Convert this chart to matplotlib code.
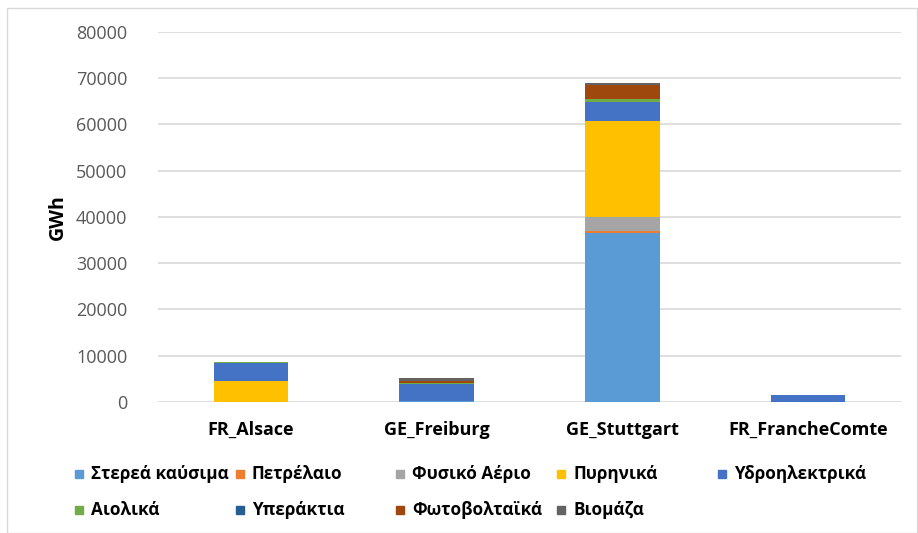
import matplotlib.pyplot as plt
from matplotlib.patches import Rectangle
import numpy as np

regions = ['FR_Alsace', 'GE_Freiburg', 'GE_Stuttgart', 'FR_FrancheComte']
sources = ['Στερεά καύσιμα', 'Πετρέλαιο', 'Φυσικό Αέριο', 'Πυρηνικά', 'Υδροηλεκτρικά',
           'Αιολικά', 'Υπεράκτια', 'Φωτοβολταϊκά', 'Βιομάζα']
colors = ['#5B9BD5', '#ED7D31', '#A5A5A5', '#FFC000', '#4472C4',
          '#70AD47', '#255E91', '#9E480E', '#636363']

# GWh per source, one value per region
solid = [0, 100, 36600, 0]
oil = [0, 0, 300, 0]
gas = [0, 0, 3100, 0]
nuclear = [4540, 0, 20800, 0]
hydro = [3960, 3700, 3950, 1430]
wind = [100, 300, 720, 50]
offshore = [0, 0, 0, 0]
pv = [30, 430, 3030, 0]
biomass = [30, 650, 430, 100]
values = [solid, oil, gas, nuclear, hydro, wind, offshore, pv, biomass]

fig = plt.figure(figsize=(9.18, 5.33), dpi=100)
ax = fig.add_axes([0.172, 0.246, 0.8095, 0.694])

x = np.arange(len(regions))
bottom = np.zeros(len(regions))
for vals, col in zip(values, colors):
    ax.bar(x, vals, width=0.4, bottom=bottom, color=col, zorder=3)
    bottom += np.array(vals)

ax.set_xlim(-0.5, len(regions) - 0.5)
ax.set_ylim(0, 80000)
ax.set_yticks(range(0, 80001, 10000))
ax.yaxis.grid(True, color='#D9D9D9', linewidth=1.2, zorder=0)
for s in ax.spines.values():
    s.set_visible(False)
ax.tick_params(length=0)
ax.tick_params(axis='y', pad=22)
ax.tick_params(axis='x', pad=14)
ax.set_yticklabels([str(v) for v in range(0, 80001, 10000)],
                   fontfamily='Open Sans', fontsize=13, color='#595959')
ax.set_xticks(x)
ax.set_xticklabels(regions, fontfamily='Open Sans', fontweight='bold', fontsize=13)
ax.set_ylabel('GWh', fontfamily='Open Sans', fontweight='bold', fontsize=14, labelpad=6)

# legend laid out in a 5-column grid
W, H = 918, 533
for i, (name, col) in enumerate(zip(sources, colors)):
    r, c = divmod(i, 5)
    px = 75 + c * 160.7
    py = 474 + r * 36
    fig.patches.append(Rectangle((px / W, (H - py - 4) / H), 8 / W, 8 / H,
                                 transform=fig.transFigure, color=col))
    fig.text((px + 16) / W, (H - py) / H, name, va='center', ha='left',
             fontsize=12.3, fontweight='bold', family=['Open Sans', 'DejaVu Sans'])

# chart border
fig.patches.append(Rectangle((7 / W, 0.5 / H), (W - 8) / W, (H - 8) / H,
                             transform=fig.transFigure, fill=False,
                             edgecolor='#D9D9D9', linewidth=1))

fig.savefig('out.png')
